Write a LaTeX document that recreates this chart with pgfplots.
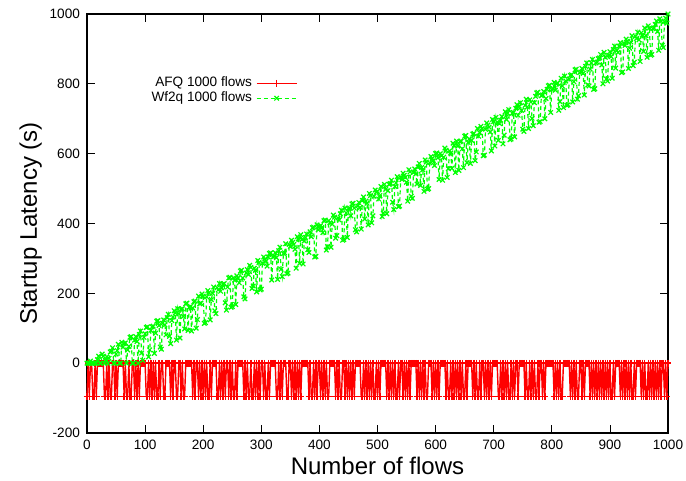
\documentclass[border=0pt]{standalone}
\usepackage{fontspec}
\setmainfont{Liberation Sans}
\usepackage{pgfplots}
\pgfplotsset{compat=1.18}
\usetikzlibrary{calc}
\begin{document}
\begin{tikzpicture}
\begin{axis}[
  scale only axis,
  width=290.5pt, height=209.5pt,
  xmin=0, xmax=1000, ymin=-200, ymax=1000,
  xtick={0,100,...,1000}, ytick={-200,0,...,1000},
  tick align=inside, tick pos=both,
  major tick length=4pt,
  axis line style={line width=0.6pt},
  every tick/.style={black, line width=0.4pt},
  /pgf/number format/assume math mode=true,
  /pgf/number format/set thousands separator={},
  tick label style={font=\fontsize{6.8}{8}\selectfont},
  xlabel={Number of flows}, ylabel={Startup Latency (s)},
  label style={font=\fontsize{12}{14}\selectfont},
  xlabel style={yshift=3pt},
  ylabel style={yshift=-3pt},
  legend style={at={(0.1,0.865)}, anchor=north west, draw=none, fill=none,
    font=\fontsize{6.8}{7.2}\selectfont, row sep=-3pt, inner sep=1pt},
  legend cell align=right,
  legend plot pos=right,
  legend image code/.code={\draw[mark repeat=2,mark phase=2,#1] plot coordinates {(0cm,0cm) (0.35cm,0cm) (0.7cm,0cm)};},
  clip=false,
]
\addplot[draw=red, color=red, line width=0.7pt, mark=+, mark size=1.7pt, mark options={draw=red}] coordinates {
(0,-95)(2,0)(4,-95)(6,0)(8,0)(10,-95)(12,-95)(14,0)(16,-95)(18,0)(20,0)(22,0)(24,0)(26,0)(28,0)(30,-95)(32,-95)(34,0)(36,-95)(38,0)
(40,-95)(42,-95)(44,0)(46,0)(48,-95)(50,0)(52,-95)(54,0)(56,0)(58,0)(60,0)(62,0)(64,-95)(66,0)(68,-95)(70,-95)(72,0)(74,-95)(76,-95)(78,0)
(80,0)(82,-95)(84,0)(86,-95)(88,0)(90,-95)(92,0)(94,0)(96,0)(98,0)(100,0)(102,-95)(104,-95)(106,0)(108,-95)(110,0)(112,-95)(114,0)(116,-95)(118,0)
(120,-95)(122,-95)(124,0)(126,-95)(128,0)(130,0)(132,-95)(134,-95)(136,0)(138,0)(140,0)(142,0)(144,-95)(146,0)(148,-95)(150,0)(152,0)(154,-95)(156,-95)(158,0)
(160,0)(162,-95)(164,0)(166,-95)(168,-95)(170,0)(172,0)(174,0)(176,0)(178,0)(180,0)(182,-95)(184,0)(186,-95)(188,0)(190,0)(192,-95)(194,0)(196,-95)(198,0)
(200,-95)(202,0)(204,-95)(206,0)(208,-95)(210,-95)(212,0)(214,-95)(216,0)(218,0)(220,0)(222,0)(224,-95)(226,-95)(228,0)(230,-95)(232,0)(234,-95)(236,0)(238,-95)
(240,0)(242,0)(244,-95)(246,0)(248,-95)(250,0)(252,-95)(254,-95)(256,0)(258,-95)(260,0)(262,0)(264,0)(266,0)(268,0)(270,-95)(272,0)(274,-95)(276,0)(278,-95)
(280,-95)(282,0)(284,-95)(286,-95)(288,0)(290,-95)(292,0)(294,-95)(296,0)(298,-95)(300,0)(302,0)(304,-95)(306,0)(308,-95)(310,-95)(312,0)(314,-95)(316,0)(318,0)
(320,0)(322,0)(324,0)(326,-95)(328,-95)(330,0)(332,-95)(334,0)(336,-95)(338,0)(340,0)(342,0)(344,-95)(346,-95)(348,0)(350,0)(352,-95)(354,0)(356,-95)(358,0)
(360,-95)(362,0)(364,-95)(366,0)(368,-95)(370,0)(372,0)(374,0)(376,0)(378,0)(380,0)(382,-95)(384,0)(386,-95)(388,-95)(390,0)(392,-95)(394,0)(396,-95)(398,0)
(400,0)(402,-95)(404,0)(406,-95)(408,0)(410,-95)(412,0)(414,-95)(416,-95)(418,0)(420,0)(422,0)(424,0)(426,0)(428,-95)(430,0)(432,-95)(434,0)(436,-95)(438,-95)
(440,0)(442,0)(444,-95)(446,0)(448,-95)(450,0)(452,-95)(454,0)(456,-95)(458,0)(460,-95)(462,0)(464,0)(466,0)(468,0)(470,0)(472,-95)(474,-95)(476,0)(478,-95)
(480,0)(482,-95)(484,0)(486,-95)(488,0)(490,-95)(492,0)(494,-95)(496,-95)(498,0)(500,-95)(502,0)(504,-95)(506,0)(508,0)(510,0)(512,0)(514,0)(516,-95)(518,0)
(520,-95)(522,0)(524,-95)(526,0)(528,-95)(530,0)(532,-95)(534,-95)(536,0)(538,-95)(540,0)(542,0)(544,-95)(546,0)(548,-95)(550,0)(552,-95)(554,0)(556,-95)(558,0)
(560,0)(562,0)(564,0)(566,0)(568,-95)(570,0)(572,-95)(574,0)(576,-95)(578,0)(580,-95)(582,0)(584,-95)(586,-95)(588,0)(590,0)(592,0)(594,-95)(596,0)(598,-95)
(600,0)(602,-95)(604,0)(606,-95)(608,0)(610,0)(612,0)(614,0)(616,0)(618,-95)(620,0)(622,-95)(624,-95)(626,0)(628,-95)(630,0)(632,-95)(634,0)(636,-95)(638,0)
(640,-95)(642,0)(644,-95)(646,0)(648,-95)(650,-95)(652,0)(654,-95)(656,0)(658,0)(660,0)(662,0)(664,-95)(666,0)(668,-95)(670,0)(672,-95)(674,-95)(676,0)(678,-95)
(680,0)(682,0)(684,-95)(686,0)(688,-95)(690,0)(692,-95)(694,0)(696,-95)(698,0)(700,0)(702,0)(704,0)(706,0)(708,-95)(710,-95)(712,0)(714,-95)(716,0)(718,-95)
(720,0)(722,-95)(724,0)(726,-95)(728,-95)(730,0)(732,-95)(734,0)(736,-95)(738,0)(740,0)(742,-95)(744,0)(746,0)(748,0)(750,0)(752,0)(754,-95)(756,0)(758,-95)
(760,-95)(762,0)(764,-95)(766,0)(768,-95)(770,0)(772,-95)(774,-95)(776,0)(778,-95)(780,0)(782,0)(784,-95)(786,0)(788,-95)(790,0)(792,0)(794,0)(796,0)(798,0)
(800,0)(802,0)(804,-95)(806,0)(808,-95)(810,0)(812,-95)(814,0)(816,-95)(818,-95)(820,0)(822,0)(824,0)(826,0)(828,0)(830,0)(832,-95)(834,0)(836,-95)(838,0)
(840,-95)(842,0)(844,-95)(846,-95)(848,0)(850,0)(852,-95)(854,0)(856,-95)(858,0)(860,0)(862,0)(864,0)(866,-95)(868,0)(870,-95)(872,0)(874,-95)(876,0)(878,-95)
(880,0)(882,-95)(884,0)(886,-95)(888,0)(890,-95)(892,0)(894,-95)(896,0)(898,-95)(900,0)(902,-95)(904,-95)(906,0)(908,-95)(910,0)(912,0)(914,0)(916,0)(918,-95)
(920,0)(922,-95)(924,0)(926,-95)(928,0)(930,-95)(932,0)(934,-95)(936,0)(938,-95)(940,-95)(942,0)(944,-95)(946,0)(948,0)(950,0)(952,0)(954,-95)(956,0)(958,-95)
(960,0)(962,-95)(964,-95)(966,0)(968,-95)(970,0)(972,-95)(974,0)(976,-95)(978,0)(980,-95)(982,0)(984,-95)(986,0)(988,-95)(990,0)(992,0)(994,-95)(996,0)(998,-95)
(1000,0)
};
\addlegendentry{AFQ 1000 flows}
\addplot[draw=green, color=green, line width=0.6pt, dash pattern=on 2pt off 1.5pt, mark=x, mark size=1.6pt, mark options={solid, draw=green}] coordinates {
(0,0)(2,0)(4,0)(6,6)(8,0)(10,0)(12,0)(14,0)(16,0)(18,10)(20,20)(22,0)(24,0)(26,26)(28,20)(30,0)(32,8)(34,18)(36,0)(38,14)
(40,32)(42,34)(44,44)(46,0)(48,0)(50,26)(52,36)(54,54)(56,0)(58,0)(60,60)(62,46)(64,56)(66,58)(68,0)(70,38)(72,48)(74,74)(76,76)(78,0)
(80,0)(82,66)(84,76)(86,62)(88,0)(90,82)(92,92)(94,29)(96,8)(98,74)(100,84)(102,102)(104,104)(106,18)(108,38)(110,94)(112,104)(114,106)(116,28)(118,86)
(120,120)(122,122)(124,108)(126,46)(128,40)(130,114)(132,124)(134,110)(136,81)(138,130)(140,140)(142,77)(144,56)(146,122)(148,132)(150,150)(152,144)(154,66)(156,156)(158,142)
(160,72)(162,154)(164,156)(166,134)(168,98)(170,170)(172,172)(174,94)(176,160)(178,162)(180,92)(182,158)(184,176)(186,178)(188,100)(190,125)(192,192)(194,170)(196,172)(198,198)
(200,192)(202,114)(204,116)(206,190)(208,208)(210,202)(212,124)(214,182)(216,200)(218,218)(220,150)(222,142)(224,216)(226,210)(228,228)(230,206)(232,216)(234,226)(236,228)(238,173)
(240,152)(242,218)(244,244)(246,246)(248,160)(250,162)(252,244)(254,238)(256,168)(258,250)(260,244)(262,230)(264,264)(266,266)(268,244)(270,190)(272,184)(274,258)(276,268)(278,254)
(280,280)(282,274)(284,214)(286,221)(288,272)(290,266)(292,204)(294,294)(296,288)(298,210)(300,212)(302,286)(304,304)(306,298)(308,292)(310,278)(312,304)(314,314)(316,316)(318,238)
(320,304)(322,306)(324,316)(326,302)(328,240)(330,322)(332,332)(334,269)(336,248)(338,314)(340,316)(342,342)(344,256)(346,258)(348,340)(350,334)(352,352)(354,346)(356,340)(358,326)
(360,272)(362,362)(364,356)(366,286)(368,368)(370,354)(372,284)(374,350)(376,360)(378,370)(380,325)(382,317)(384,376)(386,362)(388,388)(390,390)(392,304)(394,306)(396,396)(398,382)
(400,392)(402,394)(404,388)(406,374)(408,408)(410,410)(412,324)(414,334)(416,408)(418,402)(420,332)(422,398)(424,424)(426,418)(428,358)(430,365)(432,416)(434,410)(436,428)(438,438)
(440,352)(442,354)(444,444)(446,430)(448,360)(450,442)(452,444)(454,422)(456,456)(458,458)(460,444)(462,382)(464,376)(466,450)(468,460)(470,446)(472,384)(474,466)(476,476)(478,413)
(480,464)(482,458)(484,396)(486,486)(488,480)(490,402)(492,422)(494,478)(496,496)(498,490)(500,492)(502,470)(504,480)(506,506)(508,420)(510,430)(512,512)(514,498)(516,428)(518,494)
(520,512)(522,514)(524,524)(526,461)(528,440)(530,506)(532,516)(534,534)(536,448)(538,450)(540,532)(542,526)(544,544)(546,538)(548,532)(550,518)(552,464)(554,554)(556,548)(558,478)
(560,472)(562,546)(564,556)(566,542)(568,513)(570,562)(572,572)(574,509)(576,560)(578,554)(580,492)(582,582)(584,576)(586,498)(588,500)(590,574)(592,592)(594,586)(596,580)(598,566)
(600,600)(602,602)(604,588)(606,526)(608,600)(610,594)(612,524)(614,590)(616,616)(618,610)(620,532)(622,557)(624,608)(626,602)(628,558)(630,630)(632,624)(634,546)(636,636)(638,622)
(640,552)(642,634)(644,636)(646,614)(648,560)(650,650)(652,652)(654,574)(656,632)(658,642)(660,572)(662,638)(664,656)(666,658)(668,580)(670,605)(672,672)(674,650)(676,660)(678,678)
(680,672)(682,594)(684,596)(686,670)(688,688)(690,682)(692,676)(694,662)(696,608)(698,698)(700,692)(702,622)(704,704)(706,690)(708,638)(710,686)(712,696)(714,706)(716,628)(718,653)
(720,720)(722,698)(724,716)(726,726)(728,640)(730,642)(732,716)(734,718)(736,648)(738,730)(740,740)(742,710)(744,736)(746,746)(748,724)(750,670)(752,664)(754,738)(756,756)(758,734)
(760,672)(762,754)(764,748)(766,701)(768,680)(770,746)(772,764)(774,774)(776,776)(778,690)(780,692)(782,766)(784,768)(786,778)(788,700)(790,758)(792,784)(794,794)(796,796)(798,718)
(800,784)(802,786)(804,804)(806,782)(808,800)(810,802)(812,724)(814,749)(816,816)(818,794)(820,732)(822,822)(824,808)(826,738)(828,740)(830,814)(832,824)(834,826)(836,748)(838,806)
(840,840)(842,842)(844,756)(846,766)(848,832)(850,834)(852,844)(854,830)(856,768)(858,850)(860,860)(862,797)(864,794)(866,842)(868,860)(870,870)(872,784)(874,786)(876,860)(878,862)
(880,872)(882,874)(884,884)(886,854)(888,800)(890,890)(892,876)(894,814)(896,808)(898,882)(900,892)(902,878)(904,816)(906,898)(908,908)(910,845)(912,896)(914,890)(916,908)(918,918)
(920,832)(922,834)(924,916)(926,910)(928,928)(930,922)(932,844)(934,902)(936,920)(938,938)(940,852)(942,862)(944,936)(946,930)(948,948)(950,926)(952,864)(954,946)(956,940)(958,893)
(960,960)(962,938)(964,876)(966,966)(968,960)(970,882)(972,884)(974,958)(976,960)(978,970)(980,980)(982,950)(984,896)(986,986)(988,980)(990,910)(992,904)(994,978)(996,988)(998,974)
(1000,1000)
};
\addlegendentry{Wf2q 1000 flows}
\end{axis}
\pgfresetboundingbox
\path ($(current axis.south west)+(-43.5pt,-24pt)$) rectangle ($(current axis.north east)+(9pt,7pt)$);
\end{tikzpicture}
\end{document}
